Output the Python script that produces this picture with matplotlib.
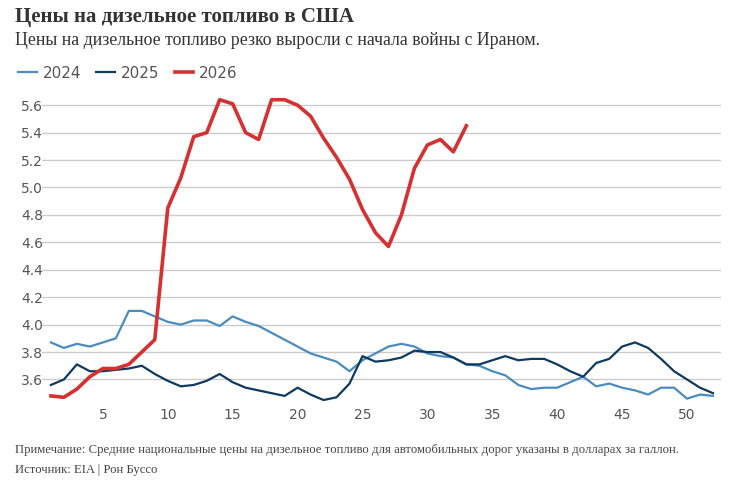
import matplotlib.pyplot as plt

weeks_2026 = list(range(1, 34))
price_2026 = [3.48, 3.47, 3.53, 3.62, 3.68, 3.68, 3.71, 3.80, 3.89, 4.85, 5.07, 5.37, 5.40, 5.64, 5.61,
              5.40, 5.35, 5.64, 5.64, 5.60, 5.52, 5.36, 5.22, 5.06, 4.84, 4.67, 4.57, 4.80, 5.14, 5.31,
              5.35, 5.26, 5.45]
weeks_full = list(range(1, 53))
price_2024 = [3.87, 3.83, 3.86, 3.84, 3.87, 3.90, 4.10, 4.10, 4.06, 4.02, 4.00, 4.03, 4.03, 3.99, 4.06,
              4.02, 3.99, 3.94, 3.89, 3.84, 3.79, 3.76, 3.73, 3.66, 3.74, 3.79, 3.84, 3.86, 3.84, 3.79,
              3.77, 3.76, 3.71, 3.70, 3.66, 3.63, 3.56, 3.53, 3.54, 3.54, 3.58, 3.62, 3.55, 3.57, 3.54,
              3.52, 3.49, 3.54, 3.54, 3.46, 3.49, 3.48]
price_2025 = [3.56, 3.60, 3.71, 3.66, 3.66, 3.67, 3.68, 3.70, 3.64, 3.59, 3.55, 3.56, 3.59, 3.64, 3.58,
              3.54, 3.52, 3.50, 3.48, 3.54, 3.49, 3.45, 3.47, 3.57, 3.77, 3.73, 3.74, 3.76, 3.81, 3.80,
              3.80, 3.76, 3.71, 3.71, 3.74, 3.77, 3.74, 3.75, 3.75, 3.71, 3.66, 3.62, 3.72, 3.75, 3.84,
              3.87, 3.83, 3.75, 3.66, 3.60, 3.54, 3.50]
yticks = [3.6, 3.8, 4.0, 4.2, 4.4, 4.6, 4.8, 5.0, 5.2, 5.4, 5.6]
xticks = [5, 10, 15, 20, 25, 30, 35, 40, 45, 50]

fig = plt.figure(figsize=(7.34, 4.93), dpi=100)
ax = fig.add_axes([0.057, 0.183, 0.925, 0.637])

ax.plot(weeks_full, price_2024, color='#4a8cc0', lw=1.6, label='2024')
ax.plot(weeks_full, price_2025, color='#0f3a60', lw=1.6, label='2025')
ax.plot(weeks_2026, price_2026, color='#d63031', lw=2.6, label='2026')

ax.set_ylim(3.43, 5.72)
ax.set_xlim(0.3, 52.6)
ax.set_yticks(yticks)
ax.set_yticklabels([f'{v:.1f}' for v in yticks])
ax.set_xticks(xticks)
ax.grid(axis='y', color='#cccccc', lw=1)
ax.set_axisbelow(True)
for s in ax.spines.values():
    s.set_visible(False)
ax.tick_params(length=0, labelsize=10, colors='#555555')
ax.tick_params(axis='y', pad=-2)
for lbl in ax.get_yticklabels():
    lbl.set_horizontalalignment('left')
    lbl.set_x(-0.035)

ax.legend(loc='center left', bbox_to_anchor=(-0.055, 1.05), ncol=3, frameon=False,
          fontsize=11, handlelength=1.2, handletextpad=0.4, columnspacing=1.0,
          labelcolor='#555555')

fig.text(0.02, 0.965, 'Цены на дизельное топливо в США', fontsize=15, fontweight='bold',
         family='Liberation Serif', color='#333333', va='center')
fig.text(0.02, 0.918, 'Цены на дизельное топливо резко выросли с начала войны с Ираном.',
         fontsize=12.8, family='Liberation Serif', color='#333333', va='center')
fig.text(0.02, 0.087, 'Примечание: Средние национальные цены на дизельное топливо для автомобильных дорог указаны в долларах за галлон.',
         fontsize=9.2, family='Liberation Serif', color='#444444', va='center')
fig.text(0.02, 0.047, 'Источник: EIA | Рон Буссо', fontsize=9.2, family='Liberation Serif',
         color='#444444', va='center')

fig.savefig('out.png', dpi=100, facecolor='white')
